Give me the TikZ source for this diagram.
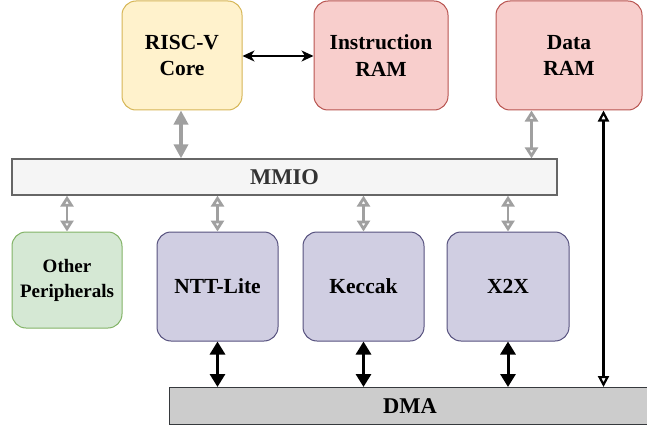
\documentclass[tikz,border=0pt]{standalone}
\usepackage{fontspec}
\setmainfont{Liberation Serif}[BoldFont={Liberation Serif Bold}]
\newfontfamily\labelfont{Liberation Serif Bold}
\usetikzlibrary{arrows.meta,calc}
\definecolor{yelfill}{HTML}{FFF2CC}\definecolor{yeldraw}{HTML}{D6B656}
\definecolor{redfill}{HTML}{F8CECC}\definecolor{reddraw}{HTML}{B85450}
\definecolor{grnfill}{HTML}{D5E8D4}\definecolor{grndraw}{HTML}{82B366}
\definecolor{purfill}{HTML}{D0CEE2}\definecolor{purdraw}{HTML}{56517E}
\definecolor{busfill}{HTML}{F5F5F5}\definecolor{busdraw}{HTML}{666666}
\definecolor{dmafill}{HTML}{CCCCCC}\definecolor{dmadraw}{HTML}{36393D}
\definecolor{linkgray}{HTML}{A0A0A0}
\begin{document}
\begin{tikzpicture}[x=1pt,y=-1pt,
  block/.style={draw, rounded corners=14pt, line width=1pt, align=center,
    inner sep=0pt, font=\labelfont\fontsize{21.5}{26.5}\selectfont},
  bus/.style={draw, line width=1.3pt, inner sep=0pt,
    font=\labelfont\fontsize{22.5}{26}\selectfont},
  mmiolink/.style={linkgray, line width=2.8pt,
    {Triangle[open,width=13pt,length=11pt]}-{Triangle[open,width=13pt,length=11pt]}},
  corelink/.style={linkgray, line width=3.6pt,
    {Triangle[width=14pt,length=14pt]}-{Triangle[width=14pt,length=14pt]}},
  dmalink/.style={black, line width=3pt,
    {Triangle[width=15pt,length=13pt]}-{Triangle[width=15pt,length=13pt]}},
  ramlink/.style={black, line width=2.2pt,
    {Triangle[open,width=11pt,length=11pt]}-{Triangle[open,width=11pt,length=11pt]}},
  thinlink/.style={black, line width=1.4pt,
    {Stealth[width=11pt,length=12pt,inset=3.5pt]}-{Stealth[width=11pt,length=12pt,inset=3.5pt]}}
]
\useasboundingbox (0,0) rectangle (647,425);

% top row
\node[block, fill=yelfill, draw=yeldraw, minimum width=120pt, minimum height=109pt]
  (core) at (182,55.5) {RISC-V\\Core};
\node[block, fill=redfill, draw=reddraw, minimum width=134pt, minimum height=109pt]
  (iram) at (381,55.5) {Instruction\\RAM};
\node[block, fill=redfill, draw=reddraw, minimum width=146pt, minimum height=109pt]
  (dram) at (569,55.5) {Data\\RAM};

% memory-mapped bus
\node[bus, fill=busfill, draw=busdraw, text=black!80, minimum width=545pt, minimum height=36pt]
  (mmio) at (284.5,177) {MMIO};

% peripherals
\node[block, fill=grnfill, draw=grndraw, minimum width=110pt, minimum height=96pt,
  font=\labelfont\fontsize{19}{25}\selectfont]
  (other) at (67,280) {Other\\Peripherals};
\node[block, fill=purfill, draw=purdraw, minimum width=121pt, minimum height=109pt]
  (ntt) at (217.5,286.5) {NTT-Lite};
\node[block, fill=purfill, draw=purdraw, minimum width=121pt, minimum height=109pt]
  (keccak) at (363.5,286.5) {Keccak};
\node[block, fill=purfill, draw=purdraw, minimum width=122pt, minimum height=109pt]
  (x2x) at (508,286.5) {X2X};

% DMA bus, running off the right edge
\node[bus, fill=dmafill, draw=dmadraw, minimum width=483pt, minimum height=37pt,
  anchor=north west] (dma) at (169,387) {};
\node[font=\labelfont\fontsize{22.5}{26}\selectfont] (dmalabel) at (410,406) {DMA};

% connections
\draw[thinlink] (core.east |- 0,56) -- (iram.west |- 0,56);
\draw[corelink] (core.south) ++(-1,0) coordinate (c1) -- (c1 |- mmio.north);
\draw[mmiolink] ($(dram.south west)+(36,0)$) coordinate (d1) -- (d1 |- mmio.north);
\draw[mmiolink] (other.north) -- (other.north |- mmio.south);
\draw[mmiolink] (ntt.north) -- (ntt.north |- mmio.south);
\draw[mmiolink] (keccak.north) -- (keccak.north |- mmio.south);
\draw[mmiolink] (x2x.north) -- (x2x.north |- mmio.south);
\draw[dmalink] (ntt.south) -- (ntt.south |- dma.north);
\draw[dmalink] (keccak.south) -- (keccak.south |- dma.north);
\draw[dmalink] (x2x.south) -- (x2x.south |- dma.north);
\draw[ramlink] ($(dram.south west)+(108,0)$) coordinate (d2) -- (d2 |- dma.north);
\end{tikzpicture}
\end{document}
